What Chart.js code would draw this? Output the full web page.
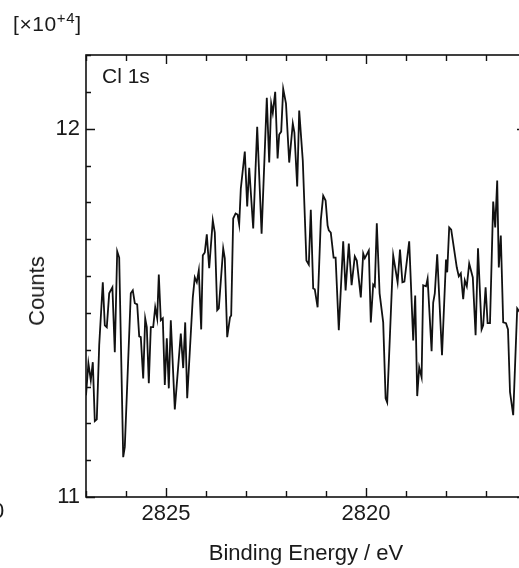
<!DOCTYPE html>
<html>
<head>
<meta charset="utf-8">
<script src="https://cdn.jsdelivr.net/npm/chart.js@4/dist/chart.umd.min.js"></script>
<style>
  html, body { margin: 0; padding: 0; background: #fff; overflow: hidden; width: 519px; height: 568px; }
  #wrap { position: absolute; left: 0; top: 0; width: 530px; height: 568px; }
  .t { position: absolute; font-family: "Liberation Sans", Arial, sans-serif; color: #1a1a1a; white-space: nowrap; }
</style>
</head>
<body>
<div id="wrap"><canvas id="c"></canvas></div>
<div class="t" id="mult" style="left:13px; top:13px; font-size:21px; line-height:21px; letter-spacing:0.6px;">[×10<span style="position:relative; top:-8px; font-size:15px;">+4</span>]</div>
<div class="t" id="peak" style="left:102px; top:65px; font-size:21px; line-height:21px;">Cl 1s</div>
<div class="t" id="xtitle" style="left:306px; top:542px; font-size:22px; line-height:22px; transform:translateX(-50%);">Binding Energy / eV</div>
<div class="t" id="ytitle" style="left:37px; top:291px; font-size:22px; line-height:22px; transform:translate(-50%,-50%) rotate(-90deg);">Counts</div>
<div class="t" style="left:-8px; top:500px; font-size:22px; line-height:22px;">0</div>
<script>
// Binding energy (eV) and counts
const energy = [2827.00, 2826.94, 2826.88, 2826.83, 2826.78, 2826.73, 2826.67, 2826.58, 2826.53, 2826.48,
  2826.42, 2826.34, 2826.28, 2826.22, 2826.17, 2826.07, 2826.03, 2825.88, 2825.83, 2825.78,
  2825.72, 2825.67, 2825.63, 2825.57, 2825.52, 2825.48, 2825.43, 2825.38, 2825.32, 2825.27,
  2825.22, 2825.18, 2825.13, 2825.08, 2825.03, 2824.98, 2824.93, 2824.88, 2824.78, 2824.63,
  2824.57, 2824.52, 2824.47, 2824.33, 2824.28, 2824.23, 2824.18, 2824.12, 2824.08, 2824.03,
  2823.98, 2823.92, 2823.83, 2823.78, 2823.72, 2823.68, 2823.57, 2823.53, 2823.47, 2823.40,
  2823.37, 2823.32, 2823.26, 2823.21, 2823.17, 2823.13, 2823.03, 2822.97, 2822.92, 2822.82,
  2822.72, 2822.61, 2822.48, 2822.42, 2822.37, 2822.33, 2822.27, 2822.21, 2822.17, 2822.12,
  2822.07, 2822.00, 2821.92, 2821.83, 2821.79, 2821.72, 2821.67, 2821.58, 2821.49, 2821.43,
  2821.38, 2821.32, 2821.28, 2821.21, 2821.13, 2821.07, 2821.01, 2820.96, 2820.93, 2820.88,
  2820.81, 2820.76, 2820.68, 2820.57, 2820.51, 2820.43, 2820.36, 2820.28, 2820.23, 2820.13,
  2820.07, 2820.03, 2819.93, 2819.88, 2819.82, 2819.78, 2819.73, 2819.66, 2819.57, 2819.51,
  2819.47, 2819.32, 2819.21, 2819.15, 2819.09, 2819.04, 2818.92, 2818.82, 2818.77, 2818.72,
  2818.67, 2818.61, 2818.57, 2818.50, 2818.46, 2818.36, 2818.32, 2818.28, 2818.22, 2818.10,
  2818.00, 2817.97, 2817.92, 2817.87, 2817.73, 2817.68, 2817.63, 2817.57, 2817.53, 2817.48,
  2817.42, 2817.33, 2817.26, 2817.20, 2817.11, 2817.07, 2817.01, 2816.96, 2816.90, 2816.82,
  2816.77, 2816.72, 2816.68, 2816.63, 2816.57, 2816.50, 2816.45, 2816.40, 2816.32, 2816.22, 2816.15];

const counts = [112760, 113630, 113170, 113660, 112060, 112110, 114120, 115830, 114660, 114610,
  115530, 115690, 113930, 116670, 116500, 111080, 111360, 115530, 115610, 115260,
  115230, 114360, 114340, 113220, 114850, 114610, 113090, 114610, 114610, 115150,
  114850, 116040, 114800, 114850, 113040, 114310, 112950, 114800, 112380, 114440,
  113500, 114740, 112680, 115420, 115960, 115830, 116150, 114550, 116560, 116640,
  117130, 116210, 117510, 117180, 115070, 115120, 116750, 116480, 114340, 114880,
  114930, 117560, 117700, 117670, 117400, 118370, 119380, 117890, 118940, 117290,
  120050, 117150, 120840, 119080, 120680, 120430, 121000, 119190, 119840, 119920,
  121080, 120680, 119080, 120140, 119890, 118430, 120490, 119130, 116420, 116310,
  117800, 115660, 115640, 115150, 117510, 118180, 118050, 117370, 117240, 117180,
  116500, 116500, 114530, 116940, 115610, 116880, 115750, 116530, 116420, 115420,
  116610, 116480, 116690, 114740, 115770, 115720, 117430, 115530, 114740, 112680,
  112570, 116560, 115830, 116720, 115830, 115850, 116940, 114250, 115470, 112740,
  113520, 113250, 115750, 115720, 115930, 113960, 115280, 115530, 116590, 113850,
  116450, 116100, 117320, 117260, 116230, 115990, 116070, 115370, 115880, 115720,
  116340, 115960, 114390, 116750, 114550, 114660, 115690, 114720, 114720, 118020,
  117320, 118590, 116230, 117100, 114740, 114720, 114550, 112850, 112220, 115120, 115010];

// Axis ticks
const xTickValues = [2816, 2817, 2818, 2819, 2820, 2821, 2822, 2823, 2824, 2825, 2826, 2827];
const xMajorTicks = [2820, 2825];
const yTickValues = [110000, 111000, 112000, 113000, 114000, 115000, 116000, 117000, 118000, 119000, 120000, 121000, 122000];
const yMajorTicks = [110000, 120000];
const yScaleFactor = 10000;

const points = energy.map((e, i) => ({ x: e, y: counts[i] }));

const frameTicks = {
  id: 'frameTicks',
  afterDraw(chart) {
    const { ctx, chartArea: a, scales: { x, y } } = chart;
    ctx.save();
    ctx.strokeStyle = '#111';
    ctx.lineWidth = 1.6;
    ctx.strokeRect(a.left, a.top, a.right - a.left, a.bottom - a.top);
    ctx.lineWidth = 1.4;
    ctx.beginPath();
    xTickValues.forEach(v => {
      const px = Math.round(x.getPixelForValue(v)) + 0.5;
      const len = xMajorTicks.includes(v) ? 9 : 6;
      ctx.moveTo(px, a.bottom); ctx.lineTo(px, a.bottom - len);
      ctx.moveTo(px, a.top); ctx.lineTo(px, a.top + len);
    });
    yTickValues.forEach(v => {
      const py = Math.round(y.getPixelForValue(v)) + 0.5;
      const len = yMajorTicks.includes(v) ? 9 : 5;
      ctx.moveTo(a.left, py); ctx.lineTo(a.left + len, py);
      ctx.moveTo(a.right, py); ctx.lineTo(a.right - len, py);
    });
    ctx.stroke();
    ctx.restore();
  }
};

new Chart(document.getElementById('c'), {
  type: 'line',
  data: {
    datasets: [{
      data: points,
      borderColor: '#111',
      borderWidth: 1.8,
      pointRadius: 0,
      tension: 0,
      fill: false
    }]
  },
  options: {
    responsive: true,
    maintainAspectRatio: false,
    animation: false,
    layout: { padding: { top: 55, right: 4, left: 0, bottom: 0 } },
    plugins: { legend: { display: false }, tooltip: { enabled: false } },
    scales: {
      x: {
        type: 'linear',
        reverse: true,
        min: 2816,
        max: 2827,
        grid: { display: false, drawTicks: false },
        border: { display: false },
        afterBuildTicks: s => { s.ticks = xTickValues.map(v => ({ value: v })); },
        afterFit: s => { s.height = 71; },
        ticks: {
          autoSkip: false,
          maxRotation: 0,
          padding: 4,
          color: '#1a1a1a',
          font: { family: '"Liberation Sans", Arial, sans-serif', size: 22 },
          callback: v => xMajorTicks.includes(v) ? String(v) : ''
        }
      },
      y: {
        type: 'linear',
        min: 110000,
        max: 122000,
        grid: { display: false, drawTicks: false },
        border: { display: false },
        afterBuildTicks: s => { s.ticks = yTickValues.map(v => ({ value: v })); },
        afterFit: s => { s.width = 86; },
        ticks: {
          autoSkip: false,
          padding: 6,
          color: '#1a1a1a',
          font: { family: '"Liberation Sans", Arial, sans-serif', size: 22 },
          callback: v => yMajorTicks.includes(v) ? String(v / yScaleFactor) : ''
        }
      }
    }
  },
  plugins: [frameTicks]
});
</script>
</body>
</html>
